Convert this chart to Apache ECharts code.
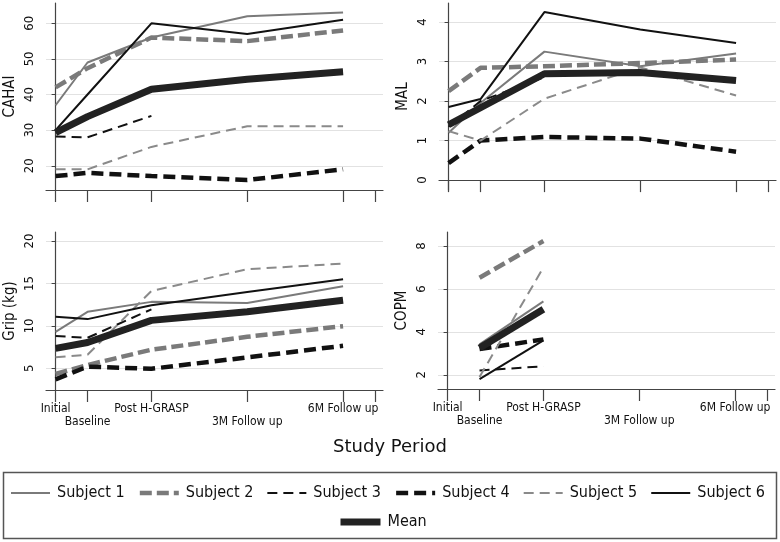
<!DOCTYPE html>
<html><head><meta charset="utf-8">
<script src="https://cdn.jsdelivr.net/npm/echarts@6/dist/echarts.min.js"></script>
<style>html,body{margin:0;padding:0;background:#fff}#c{width:780px;height:542px}</style>
</head><body><div id="c"></div>
<script>
// ---- data ----
const periods = ['Initial', 'Baseline', 'Post H-GRASP', '3M Follow up', '6M Follow up'];
const periodX = [0, 1, 3, 6, 9];          // time position of each study period on the axis
const xTickValues = [0, 1, 3, 6, 9, 10];
const upperLabelIdx = [0, 2, 4];          // labels on the first label row
const lowerLabelIdx = [1, 3];             // labels on the second (staggered) row
const seriesNames = ['Subject 1', 'Subject 2', 'Subject 3', 'Subject 4', 'Subject 5', 'Subject 6', 'Mean'];

const cahai = [
  [37, 49, 56, 62, 63],
  [42, 47.4, 56, 55, 58],
  [28.2, 28, 34, null, null],
  [17.1, 18, 17.1, 16, 19],
  [19, 19, 25.3, 31.1, 31.1],
  [30, 40, 60, 57, 61],
  [29.3, 33.8, 41.5, 44.3, 46.4]
];
const mal = [
  [1.2, 1.95, 3.25, 2.88, 3.2],
  [2.25, 2.84, 2.88, 2.96, 3.05],
  [1.35, 2.0, 2.6, null, null],
  [0.43, 1.0, 1.09, 1.05, 0.72],
  [1.24, 1.0, 2.06, 2.85, 2.14],
  [1.85, 2.05, 4.25, 3.81, 3.47],
  [1.4, 1.83, 2.69, 2.72, 2.52]
];
const grip = [
  [9.3, 11.66, 12.83, 12.7, 14.67],
  [4.33, 5.39, 7.2, 8.72, 9.97],
  [8.8, 8.6, 11.95, null, null],
  [3.7, 5.2, 4.95, 6.29, 7.66],
  [6.3, 6.6, 14.12, 16.67, 17.34],
  [11.07, 10.8, 12.44, 14.0, 15.5],
  [7.35, 8.05, 10.65, 11.66, 13.03]
];
const copm = [
  [null, 3.42, 5.42, null, null],
  [null, 6.52, 8.23, null, null],
  [null, 2.2, 2.4, null, null],
  [null, 3.2, 3.65, null, null],
  [null, 1.9, 7.0, null, null],
  [null, 1.8, 3.6, null, null],
  [null, 3.25, 5.05, null, null]
];
const cahaiTicks = [20, 30, 40, 50, 60];
const malTicks = [0, 1, 2, 3, 4];
const gripTicks = [5, 10, 15, 20];
const copmTicks = [2, 4, 6, 8];

// ---- styles ----
const FONT = 'DejaVu Sans Condensed, DejaVu Sans, sans-serif';
const lineStyles = [
  { color: '#7a7a7a', width: 2, type: 'solid' },
  { color: '#7a7a7a', width: 4.5, type: [12, 5] },
  { color: '#111111', width: 2, type: [10, 6] },
  { color: '#111111', width: 4.5, type: [12, 6] },
  { color: '#8a8a8a', width: 2, type: [10, 6] },
  { color: '#111111', width: 2, type: 'solid' },
  { color: '#222222', width: 7, type: 'solid' }
];

const panels = [
  { name: 'CAHAI', data: cahai, ticks: cahaiTicks, min: 13.2, max: 65.7, grid: { left: 46, top: 3, width: 337, height: 187 }, xLabels: false },
  { name: 'MAL', data: mal, ticks: malTicks, min: -0.25, max: 4.48, grid: { left: 439, top: 3, width: 337, height: 187 }, xLabels: false },
  { name: 'Grip (kg)', data: grip, ticks: gripTicks, min: 2.45, max: 21.06, grid: { left: 46, top: 232, width: 337, height: 158 }, xLabels: true },
  { name: 'COPM', data: copm, ticks: copmTicks, min: 1.34, max: 8.65, grid: { left: 438, top: 232, width: 337, height: 157 }, xLabels: true }
];

const X_MIN = -0.3, X_MAX = 10.25;
const grids = [], xAxes = [], yAxes = [], series = [];
const labelFmt = v => { const i = periodX.indexOf(v); return i < 0 ? '' : periods[i]; };
const xLabelStyle = { fontFamily: FONT, fontSize: 12, color: '#111', showMinLabel: true, showMaxLabel: true, hideOverlap: false, formatter: labelFmt };

panels.forEach((p, pi) => {
  grids.push(Object.assign({ containLabel: false }, p.grid));
  xAxes.push({
    type: 'value', gridIndex: pi, min: X_MIN, max: X_MAX,
    axisLine: { show: true, lineStyle: { color: '#444', width: 1.2 } },
    axisTick: { show: true, length: 12, customValues: xTickValues, lineStyle: { color: '#444', width: 1.2 } },
    axisLabel: Object.assign({ show: p.xLabels, customValues: upperLabelIdx.map(i => periodX[i]), margin: 13 }, xLabelStyle),
    splitLine: { show: false }
  });
  yAxes.push({
    type: 'value', gridIndex: pi, min: p.min, max: p.max,
    name: p.name, nameLocation: 'middle', nameGap: 28,
    nameTextStyle: { fontFamily: FONT, fontSize: 15, color: '#111' },
    axisLine: { show: true, lineStyle: { color: '#444', width: 1.2 } },
    axisTick: { show: true, length: 4, customValues: p.ticks, lineStyle: { color: '#444' } },
    axisLabel: { customValues: p.ticks, rotate: 90, margin: 10, fontFamily: FONT, fontSize: 13, color: '#111' },
    splitLine: { show: true, lineStyle: { color: '#e2e2e2', width: 1 } }
  });
  p.data.forEach((arr, si) => {
    const st = lineStyles[si];
    const pts = [];
    arr.forEach((v, i) => { if (v !== null) pts.push([periodX[i], v]); });
    series.push({
      type: 'line', name: seriesNames[si], xAxisIndex: pi, yAxisIndex: pi,
      data: pts, symbol: 'none', showSymbol: false, smooth: false,
      z: si === 6 ? 5 : 3,
      itemStyle: { color: st.color },
      lineStyle: { color: st.color, width: st.width, type: st.type, cap: 'butt' },
      emphasis: { disabled: true }, silent: true
    });
  });
});

// overlay grids carrying the staggered second row of x labels for the bottom panels
panels.forEach((p, pi) => {
  if (!p.xLabels) return;
  const gi = grids.length;
  grids.push(Object.assign({ containLabel: false }, p.grid));
  xAxes.push({
    type: 'value', gridIndex: gi, min: X_MIN, max: X_MAX,
    axisLine: { show: false }, axisTick: { show: false }, splitLine: { show: false },
    axisLabel: Object.assign({ show: true, customValues: lowerLabelIdx.map(i => periodX[i]), margin: 26 }, xLabelStyle)
  });
  yAxes.push({ type: 'value', gridIndex: gi, min: p.min, max: p.max, show: false });
});

const legendCommon = {
  itemHeight: 14, padding: 0,
  textStyle: { fontFamily: FONT, fontSize: 16, color: '#111', padding: [0, 0, 0, 2] },
  selectedMode: false,
  itemStyle: { color: 'rgba(0,0,0,0)', borderColor: 'rgba(0,0,0,0)', borderWidth: 0 },
  lineStyle: { width: 'inherit', type: 'inherit', color: 'inherit' }
};

const chart = echarts.init(document.getElementById('c'), null, { renderer: 'canvas' });
chart.setOption({
  animation: false,
  backgroundColor: '#fff',
  grid: grids, xAxis: xAxes, yAxis: yAxes, series: series,
  graphic: [
    { type: 'text', left: 'center', top: 438, style: { text: 'Study Period', font: '18px DejaVu Sans', fill: '#111' } },
    { type: 'rect', shape: { x: 3.5, y: 472.5, width: 773, height: 66 }, style: { fill: 'none', stroke: '#555', lineWidth: 1.5 }, z: -1 }
  ],
  legend: [
    Object.assign({ data: seriesNames.slice(0, 6), left: 10, top: 485, itemWidth: 39, itemGap: 13 }, legendCommon),
    Object.assign({ data: ['Mean'], left: 337, top: 514, itemWidth: 40 }, legendCommon)
  ]
});
</script></body></html>
